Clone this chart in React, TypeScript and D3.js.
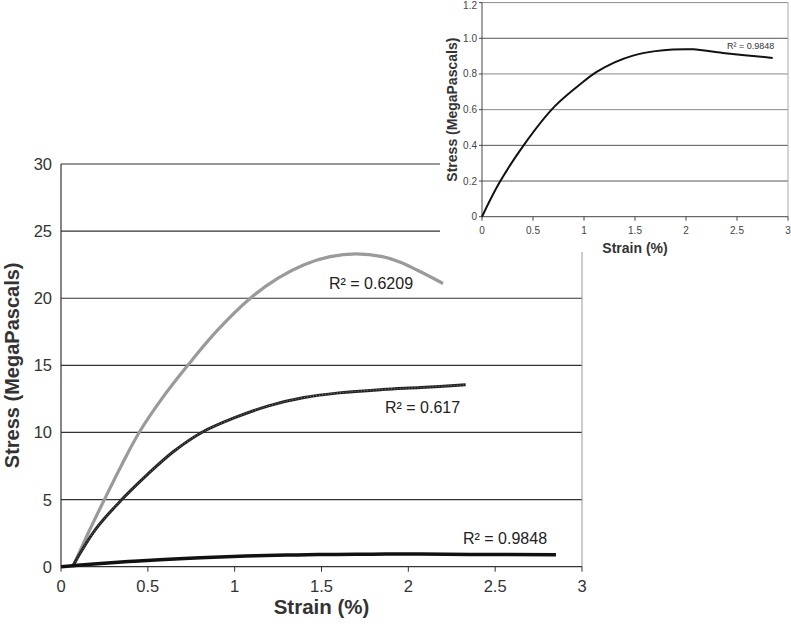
import React from "react";
import * as d3 from "d3";

// ---- Data ----
const mainXTicks = [0, 0.5, 1, 1.5, 2, 2.5, 3];
const mainXTickLabels = ["0", "0.5", "1", "1.5", "2", "2.5", "3"];
const mainYTicks = [0, 5, 10, 15, 20, 25, 30];
const mainYTickLabels = ["0", "5", "10", "15", "20", "25", "30"];

const insetXTicks = [0, 0.5, 1, 1.5, 2, 2.5, 3];
const insetXTickLabels = ["0", "0.5", "1", "1.5", "2", "2.5", "3"];
const insetYTicks = [0, 0.2, 0.4, 0.6, 0.8, 1.0, 1.2];
const insetYTickLabels = ["0", "0.2", "0.4", "0.6", "0.8", "1.0", "1.2"];

// Gray curve (R² = 0.6209)
const grayStrain = [0.07, 0.16, 0.25, 0.35, 0.45, 0.58, 0.73, 0.9, 1.09, 1.25, 1.4, 1.55, 1.7, 1.85, 1.95, 2.05, 2.2];
const grayStress = [0, 2.6, 5, 7.6, 10, 12.5, 15, 17.6, 20, 21.5, 22.5, 23.1, 23.3, 23.1, 22.7, 22.1, 21.1];

// Textured black curve (R² = 0.617)
const texStrain = [0.065, 0.2, 0.35, 0.5, 0.65, 0.81, 1.0, 1.2, 1.4, 1.6, 1.85, 2.07, 2.33];
const texStress = [0, 2.8, 5.0, 6.9, 8.6, 10.0, 11.1, 12.0, 12.6, 12.95, 13.2, 13.35, 13.55];

// Low curve (R² = 0.9848) – same specimen shown in inset
const lowStrain = [0, 0.17, 0.42, 0.71, 0.99, 1.12, 1.3, 1.48, 1.7, 1.87, 2.07, 2.36, 2.85];
const lowStress = [0, 0.19, 0.41, 0.617, 0.755, 0.81, 0.865, 0.903, 0.928, 0.937, 0.938, 0.918, 0.89];

const labels = {
  gray: "R² = 0.6209",
  tex: "R² = 0.617",
  low: "R² = 0.9848",
};

const FONT = "'Liberation Sans', Arial, sans-serif";

export default function App() {
  const W = 791;
  const H = 624;

  // Main scales
  const mx = d3.scaleLinear().domain([0, 3]).range([61, 582]);
  const my = d3.scaleLinear().domain([0, 30]).range([566.7, 164]);

  // Inset scales
  const ix = d3.scaleLinear().domain([0, 3]).range([482, 788]);
  const iy = d3.scaleLinear().domain([0, 1.2]).range([216.7, 2.6]);

  const curve = d3.curveCatmullRom.alpha(0.5);

  const mainLine = (xs: number[], ys: number[]) =>
    d3
      .line<number>()
      .x((_, i) => mx(xs[i]))
      .y((_, i) => my(ys[i]))
      .curve(curve)(ys) || "";

  const insetLine =
    d3
      .line<number>()
      .x((_, i) => ix(lowStrain[i]))
      .y((_, i) => iy(lowStress[i]))
      .curve(curve)(lowStress) || "";

  const texPath = mainLine(texStrain, texStress);

  return (
    <svg
      width={W}
      height={H}
      style={{ position: "absolute", left: 0, top: 0, background: "#fff" }}
      fontFamily={FONT}
    >
      <rect x={0} y={0} width={W} height={H} fill="#fff" />

      {/* Main grid */}
      {mainYTicks
        .filter((t) => t > 0)
        .map((t) => (
          <line key={"mg" + t} x1={mx(0)} x2={mx(3)} y1={my(t)} y2={my(t)} stroke="#333" strokeWidth={1.2} />
        ))}
      {/* right border */}
      <line x1={mx(3)} x2={mx(3)} y1={my(30)} y2={my(0)} stroke="#999" strokeWidth={1} />

      {/* Main axes */}
      <line x1={mx(0)} x2={mx(0)} y1={my(30)} y2={my(0)} stroke="#333" strokeWidth={1.2} />
      <line x1={mx(0)} x2={mx(3)} y1={my(0)} y2={my(0)} stroke="#333" strokeWidth={1.2} />
      {mainXTicks.map((t) => (
        <line key={"mxt" + t} x1={mx(t)} x2={mx(t)} y1={my(0)} y2={my(0) + 5} stroke="#333" strokeWidth={1} />
      ))}
      {mainXTicks.map((t, i) => (
        <text key={"mxl" + t} x={mx(t)} y={my(0) + 25} textAnchor="middle" fontSize={16.5} fill="#333">
          {mainXTickLabels[i]}
        </text>
      ))}
      {mainYTicks.map((t, i) => (
        <text key={"myl" + t} x={52} y={my(t) + 6} textAnchor="end" fontSize={16.5} fill="#333">
          {mainYTickLabels[i]}
        </text>
      ))}

      {/* Main titles */}
      <text x={(mx(0) + mx(3)) / 2} y={614} textAnchor="middle" fontSize={20.5} fontWeight="bold" fill="#333">
        Strain (%)
      </text>
      <text
        transform={`translate(18.5, ${(my(0) + my(30)) / 2}) rotate(-90)`}
        textAnchor="middle"
        fontSize={20}
        fontWeight="bold"
        fill="#333"
      >
        Stress (MegaPascals)
      </text>

      {/* Main series */}
      <path d={mainLine(grayStrain, grayStress)} fill="none" stroke="#9a9a9a" strokeWidth={3.2} strokeLinejoin="round" />
      <path d={texPath} fill="none" stroke="#222" strokeWidth={3} strokeLinejoin="round" />
      <path d={texPath} fill="none" stroke="#fff" strokeWidth={0.8} strokeDasharray="1 2" opacity={0.55} />
      <path d={mainLine(lowStrain, lowStress)} fill="none" stroke="#111" strokeWidth={3.5} strokeLinejoin="round" />

      {/* Main R² labels */}
      <text x={329} y={289} fontSize={16} fill="#222">{labels.gray}</text>
      <text x={385} y={413} fontSize={16} fill="#222">{labels.tex}</text>
      <text x={463} y={544} fontSize={16} fill="#222">{labels.low}</text>

      {/* Inset */}
      <rect x={440} y={0} width={W - 440} height={252} fill="#fff" />
      {insetYTicks
        .filter((t) => t > 0)
        .map((t) => (
          <line
            key={"ig" + t}
            x1={ix(0)}
            x2={ix(3)}
            y1={iy(t)}
            y2={iy(t)}
            stroke={t === 0.8 || t === 0.6 || t === 1.2 ? "#8a8a8a" : "#555"}
            strokeWidth={1}
          />
        ))}
      <line x1={ix(3)} x2={ix(3)} y1={iy(1.2)} y2={iy(0)} stroke="#aaa" strokeWidth={1} />
      <line x1={ix(0)} x2={ix(0)} y1={iy(1.2)} y2={iy(0)} stroke="#444" strokeWidth={1} />
      <line x1={ix(0)} x2={ix(3)} y1={iy(0)} y2={iy(0)} stroke="#444" strokeWidth={1} />
      {insetXTicks.map((t) => (
        <line key={"ixt" + t} x1={ix(t)} x2={ix(t)} y1={iy(0)} y2={iy(0) + 4} stroke="#444" strokeWidth={1} />
      ))}
      {insetYTicks.map((t) => (
        <line key={"iyt" + t} x1={ix(0) - 3} x2={ix(0)} y1={iy(t)} y2={iy(t)} stroke="#444" strokeWidth={1} />
      ))}
      {insetXTicks.map((t, i) => (
        <text key={"ixl" + t} x={ix(t)} y={iy(0) + 17} textAnchor="middle" fontSize={10} fill="#444">
          {insetXTickLabels[i]}
        </text>
      ))}
      {insetYTicks.map((t, i) => (
        <text key={"iyl" + t} x={477} y={Math.max(iy(t) + 3.5, 8.5)} textAnchor="end" fontSize={10} fill="#444">
          {insetYTickLabels[i]}
        </text>
      ))}
      <text x={(ix(0) + ix(3)) / 2} y={253} textAnchor="middle" fontSize={14} fontWeight="bold" fill="#333">
        Strain (%)
      </text>
      <text
        transform={`translate(457, ${(iy(0) + iy(1.2)) / 2}) rotate(-90)`}
        textAnchor="middle"
        fontSize={14}
        fontWeight="bold"
        fill="#333"
      >
        Stress (MegaPascals)
      </text>
      <path d={insetLine} fill="none" stroke="#111" strokeWidth={2} strokeLinejoin="round" />
      <text x={727} y={49} fontSize={9} fill="#333">{labels.low}</text>
    </svg>
  );
}
